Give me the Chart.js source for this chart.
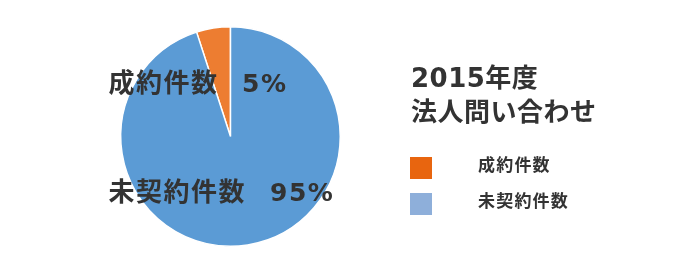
<!DOCTYPE html>
<html>
<head>
<meta charset="utf-8">
<script src="https://cdn.jsdelivr.net/npm/chart.js@4"></script>
<style>
    html, body { margin: 0; padding: 0; background: #fff; }
    #wrap { position: relative; width: 700px; height: 272px; }
</style>
</head>
<body>
<div id="wrap"><canvas id="chartPie" width="700" height="272"></canvas></div>
<script>
// Datos del gráfico
const titleLines = ['2015年度', '法人問い合わせ'];
const labels = ['成約件数', '未契約件数'];
const values = [5, 95];
const sliceColors = ['#ED7D31', '#5B9BD5'];
const legendColors = ['#E8650F', '#8EAFDA'];

const FONT = '"DejaVu Sans", "Noto Sans CJK JP", sans-serif';
const total = values.reduce((a, b) => a + b, 0);

// Etiquetas dentro del pie + título y leyenda a la derecha
const textPlugin = {
    id: 'textPlugin',
    afterDraw(chart) {
        const ctx = chart.ctx;
        const arc = chart.getDatasetMeta(0).data[0];
        const cx = arc.x, cy = arc.y;
        ctx.save();
        ctx.fillStyle = '#333333';
        ctx.textBaseline = 'middle';
        ctx.textAlign = 'left';

        // etiquetas de porcentaje
        const pct = values.map(v => Math.round(v / total * 100) + '%');
        const pos = [[-122, -51], [-122, 58]];
        const pctX = [242, 270];
        labels.forEach((lab, i) => {
            const y = cy + pos[i][1];
            ctx.font = 'bold 26px ' + FONT;
            ctx.letterSpacing = '1.5px';
            ctx.fillText(lab, cx + pos[i][0], y);
            ctx.font = 'bold 25px ' + FONT;
            ctx.letterSpacing = '1.5px';
            ctx.fillText(pct[i], pctX[i], y);
        });

        // título
        ctx.font = 'bold 26px ' + FONT;
        ctx.letterSpacing = '0.5px';
        titleLines.forEach((t, i) => ctx.fillText(t, 411, 80 + i * 34));

        // leyenda
        ctx.font = 'bold 17px ' + FONT;
        ctx.letterSpacing = '1.2px';
        labels.forEach((lab, i) => {
            const y = 168 + i * 36;
            ctx.fillStyle = legendColors[i];
            ctx.fillRect(410, y - 11, 22, 22);
            ctx.fillStyle = '#333333';
            ctx.fillText(lab, 478, y - 1);
        });
        ctx.restore();
    }
};

new Chart(document.getElementById('chartPie').getContext('2d'), {
    type: 'pie',
    data: {
        labels: labels,
        datasets: [{
            data: values,
            backgroundColor: sliceColors,
            borderColor: '#ffffff',
            borderWidth: 1.5
        }]
    },
    options: {
        responsive: false,
        animation: false,
        rotation: -values[0] / total * 360,
        layout: { padding: { left: 120, right: 359, top: 26, bottom: 25 } },
        plugins: {
            legend: { display: false },
            tooltip: { enabled: false }
        }
    },
    plugins: [textPlugin]
});
</script>
</body>
</html>
